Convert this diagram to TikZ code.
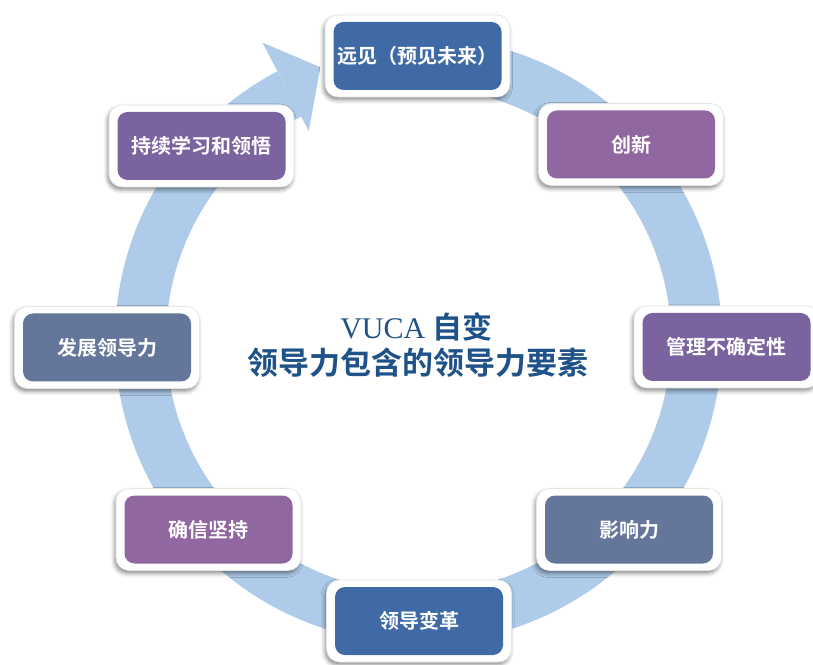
\documentclass[tikz,border=0pt]{standalone}
\usepackage{fontspec}
\newfontfamily\cjkb{Noto Sans CJK SC Bold}
\newfontfamily\serifl{Liberation Serif}
\usetikzlibrary{calc,shadows.blur}
\definecolor{ringblue}{RGB}{174,203,234}
\definecolor{boxblue}{RGB}{64,106,165}
\definecolor{boxpurpleA}{RGB}{144,103,160}
\definecolor{boxpurpleB}{RGB}{123,99,160}
\definecolor{boxslate}{RGB}{100,119,155}
\definecolor{titleblue}{RGB}{30,82,136}
\tikzset{
  boxframe/.style={fill=white, rounded corners=13pt, minimum width=185pt, minimum height=82pt,
    draw=black!10, line width=0.6pt,
    blur shadow={shadow xshift=-1.5pt, shadow yshift=-3pt, shadow blur radius=4pt, shadow opacity=45}},
  boxcore/.style={rounded corners=10pt, minimum width=168pt, minimum height=68pt, inner sep=0pt,
    text=white, font=\cjkb\fontsize{20}{24}\selectfont},
  titletext/.style={text=titleblue, inner sep=0pt},
}
\begin{document}
\begin{tikzpicture}[x=1pt,y=1pt]
\useasboundingbox (0,0) rectangle (813,664);
\coordinate (C) at (418.5,324);
% ring with arrow
\draw[ringblue, line width=51pt] ($(C)+(80:278)$) arc[start angle=80, end angle=-242.3, radius=278];
\fill[ringblue] ($(C)+(117.7:236)$) -- ($(C)+(117.7:336)$) -- ($(C)+(109.8:290)$) -- cycle;
% boxes
\node[boxframe] (f1) at (417.5,608) {};
\node[boxcore, fill=boxblue] (b1) at (417.5,608) {远见（预见未来）};
\node[boxframe] (f2) at (631,519.5) {};
\node[boxcore, fill=boxpurpleA] (b2) at (631,519.5) {创新};
\node[boxframe] (f3) at (726.5,317) {};
\node[boxcore, fill=boxpurpleB] (b3) at (726.5,317) {管理不确定性};
\node[boxframe] (f4) at (629,134.5) {};
\node[boxcore, fill=boxslate] (b4) at (629,134.5) {影响力};
\node[boxframe] (f5) at (419,43) {};
\node[boxcore, fill=boxblue] (b5) at (419,43) {领导变革};
\node[boxframe] (f6) at (208.5,134.5) {};
\node[boxcore, fill=boxpurpleA] (b6) at (208.5,134.5) {确信坚持};
\node[boxframe] (f7) at (107,316.5) {};
\node[boxcore, fill=boxslate] (b7) at (107,316.5) {发展领导力};
\node[boxframe] (f8) at (201.5,518) {};
\node[boxcore, fill=boxpurpleB] (b8) at (201.5,518) {持续学习和领悟};
% title
\node[titletext] (t1) at (416.5,337) {\serifl\fontsize{30}{34}\selectfont VUCA\ \cjkb 自变};
\node[titletext] (t2) at (417.5,301) {\cjkb\fontsize{31}{36}\selectfont 领导力包含的领导力要素};
\end{tikzpicture}
\end{document}
